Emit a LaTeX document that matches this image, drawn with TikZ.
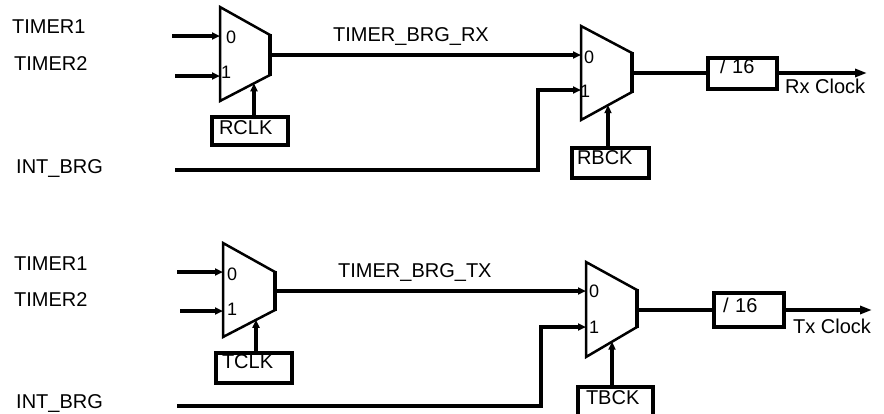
\documentclass[tikz,border=0pt]{standalone}
\usepackage{fontspec}
\setmainfont{Liberation Sans}
\usetikzlibrary{arrows.meta}
\begin{document}
\begin{tikzpicture}[x=1pt,y=-1pt,
  font=\fontsize{20}{24}\selectfont,
  lbl/.style={anchor=base west, inner sep=0pt},
  pin/.style={anchor=base west, inner sep=0pt, font=\fontsize{18}{20}\selectfont},
  wire/.style={line width=4pt},
  thinwire/.style={line width=3.3pt},
  arr/.style={-{Triangle[length=8pt,width=7pt]}},
  outarr/.style={wire, -{Triangle[length=12pt,width=8pt]}},
  muxbody/.style={line width=2.5pt, line join=miter},
  muxout/.style={line width=4pt},
  selbox/.style={draw, line width=4pt, outer sep=0pt, anchor=north west,
    text height=14.3pt, align=left, inner sep=0pt}
]
\useasboundingbox (0,0) rectangle (884,413);

% ---------- top half ----------
\node[lbl] (t1lbl) at (12,33) {TIMER1};
\node[lbl] (t2lbl) at (14,70) {TIMER2};
\node[lbl] (iblbl) at (16,173) {INT\_BRG};
\node[lbl] (rxlbl) at (333,41) {TIMER\_BRG\_RX};
\node[lbl] (rxclk) at (785,93) {Rx Clock};

% mux 1
\draw[muxbody] (220,7) -- (270,35) -- (270,75) -- (220,101) -- cycle;
\draw[muxout] (270,34) -- (270,76);
\coordinate (m1a) at (220,36);
\coordinate (m1b) at (220,76);
\coordinate (m1o) at (270,55);
\coordinate (m1s) at (254,83.3);
\node[pin] (m1p0) at (226,43) {0};
\node[pin] (m1p1) at (221,78) {1};

% mux 2
\draw[muxbody] (581,26) -- (632,53) -- (632,92) -- (581,120) -- cycle;
\draw[muxout] (632,52) -- (632,93);
\coordinate (m2a) at (581,55);
\coordinate (m2b) at (581,90);
\coordinate (m2o) at (632,73);
\coordinate (m2s) at (608,105.2);
\node[pin] (m2p0) at (584,63) {0};
\node[pin] (m2p1) at (580,97) {1};

\node[selbox, text width=62pt, inner xsep=7pt, inner ysep=3pt, text depth=7.7pt] (rclk) at (212,117) {RCLK};
\node[selbox, text width=67pt, inner xsep=5pt, inner ysep=2pt, text depth=11.7pt] (rbck) at (572,148) {RBCK};
\node[selbox, text width=45pt, inner xsep=12pt, inner ysep=2pt, text depth=12.7pt] (div1) at (708,57.5) {/ 16};

\coordinate (t1a) at (172,36);
\coordinate (t2a) at (175,76);
\coordinate (ib1) at (175,170);
\coordinate (e1) at (538,90);
\coordinate (rxe) at (867,73);

\draw[wire,arr] (t1a) -- (m1a);
\draw[wire,arr] (t2a) -- (m1b);
\draw[wire,arr] (m1o) -- (m2a);
\draw[thinwire,arr] (ib1) -| (e1) -- (m2b);
\draw[wire,arr] (m1s |- rclk.north) -- (m1s);
\draw[wire,arr] (m2s |- rbck.north) -- (m2s);
\draw[wire] (m2o) -- (div1.west);
\draw[outarr] (div1.east) -- (rxe);

% ---------- bottom half ----------
\node[lbl] (t1lblb) at (14,270) {TIMER1};
\node[lbl] (t2lblb) at (14,306) {TIMER2};
\node[lbl] (iblblb) at (16,408) {INT\_BRG};
\node[lbl] (txlbl) at (338,277) {TIMER\_BRG\_TX};
\node[lbl] (txclk) at (793,333) {Tx Clock};

% mux 3
\draw[muxbody] (223,243) -- (275,272) -- (275,310) -- (223,337) -- cycle;
\draw[muxout] (275,271) -- (275,311);
\coordinate (m3a) at (223,272);
\coordinate (m3b) at (223,311);
\coordinate (m3o) at (275,291);
\coordinate (m3s) at (256,319.9);
\node[pin] (m3p0) at (227,280) {0};
\node[pin] (m3p1) at (227,315) {1};

% mux 4
\draw[muxbody] (586,262) -- (637,290) -- (637,327) -- (586,357) -- cycle;
\draw[muxout] (637,289) -- (637,328);
\coordinate (m4a) at (586,291);
\coordinate (m4b) at (586,327);
\coordinate (m4o) at (637,310);
\coordinate (m4s) at (612,341.7);
\node[pin] (m4p0) at (589,297) {0};
\node[pin] (m4p1) at (589,333) {1};

\node[selbox, text width=64pt, inner xsep=6pt, inner ysep=1pt, text depth=13.7pt] (tclk) at (216,353) {TCLK};
\node[selbox, text width=59pt, inner xsep=8pt, inner ysep=3pt, text depth=13.7pt] (tbck) at (578,387) {TBCK};
\node[selbox, text width=52pt, inner xsep=9pt, inner ysep=5pt, text depth=9.7pt] (div2) at (714,293) {/ 16};

\coordinate (t1b) at (177,272);
\coordinate (t2b) at (180,311);
\coordinate (ib2) at (177,406);
\coordinate (e2) at (541,327);
\coordinate (txe) at (872,310);

\draw[wire,arr] (t1b) -- (m3a);
\draw[wire,arr] (t2b) -- (m3b);
\draw[wire,arr] (m3o) -- (m4a);
\draw[thinwire,arr] (ib2) -| (e2) -- (m4b);
\draw[wire,arr] (m3s |- tclk.north) -- (m3s);
\draw[wire,arr] (m4s |- tbck.north) -- (m4s);
\draw[wire] (m4o) -- (div2.west);
\draw[outarr] (div2.east) -- (txe);
\end{tikzpicture}
\end{document}
